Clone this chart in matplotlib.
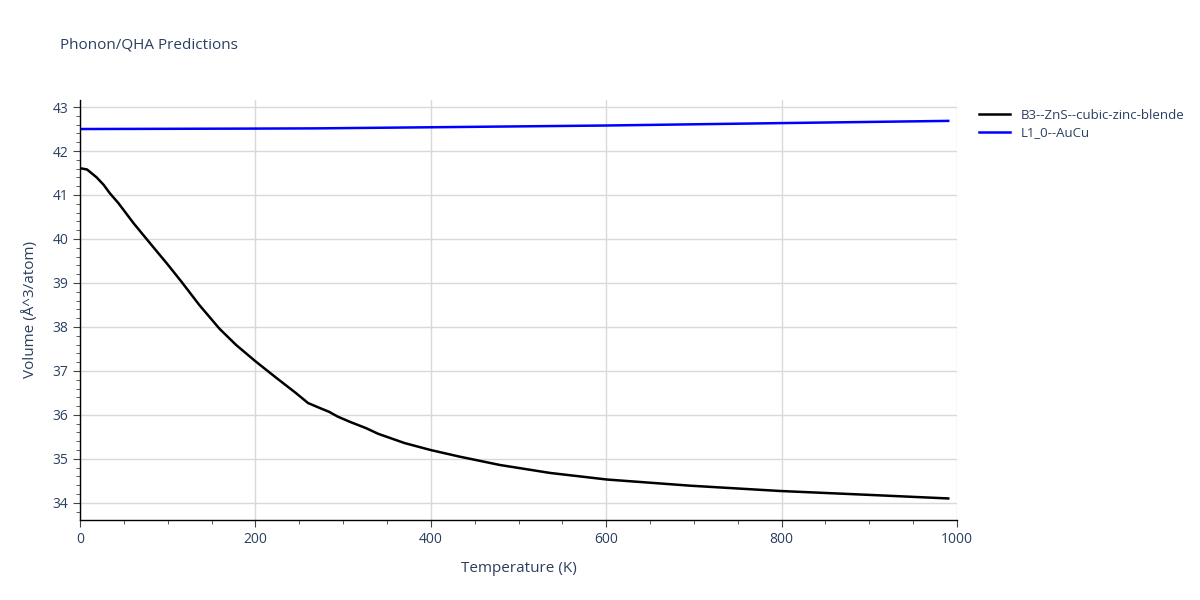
import matplotlib
matplotlib.use("Agg")
import matplotlib.pyplot as plt
from matplotlib.ticker import MultipleLocator

plt.rcParams['font.family'] = ['Open Sans', 'DejaVu Sans']

temp_b3 = [0, 8, 19, 27, 34, 44, 61, 80, 100, 116, 136, 159, 178, 200, 224, 246, 260, 273, 284,
           294, 308, 326, 340, 370, 400, 433, 479, 536, 601, 696, 798, 901, 990]
vol_b3 = [41.61, 41.58, 41.40, 41.23, 41.04, 40.81, 40.36, 39.90, 39.42, 39.02, 38.50, 37.96,
          37.59, 37.22, 36.84, 36.50, 36.27, 36.16, 36.07, 35.96, 35.84, 35.70, 35.57, 35.36,
          35.20, 35.05, 34.86, 34.68, 34.53, 34.39, 34.27, 34.18, 34.10]
temp_l10 = [0, 200, 270, 400, 600, 800, 990]
vol_l10 = [42.50, 42.51, 42.515, 42.54, 42.58, 42.635, 42.685]
labels = ["B3--ZnS--cubic-zinc-blende", "L1_0--AuCu"]

txt = '#2a3f5f'
fig = plt.figure(figsize=(12, 6), dpi=100)
ax = fig.add_axes([80/1200, 80/600, 877/1200, 420/600])
ax.plot(temp_b3, vol_b3, color='black', lw=1.8, label=labels[0])
ax.plot(temp_l10, vol_l10, color='blue', lw=1.8, label=labels[1])
ax.set_xlim(0, 1000)
ax.set_ylim(33.61, 43.16)
ax.xaxis.set_major_locator(MultipleLocator(200))
ax.xaxis.set_minor_locator(MultipleLocator(50))
ax.yaxis.set_major_locator(MultipleLocator(1))
ax.yaxis.set_minor_locator(MultipleLocator(0.2))
ax.grid(True, which='major', color='#d9d9d9', lw=1)
ax.set_axisbelow(True)
for s in ['top', 'right']:
    ax.spines[s].set_visible(False)
for s in ['left', 'bottom']:
    ax.spines[s].set_color('black')
    ax.spines[s].set_linewidth(1)
ax.tick_params(which='major', length=5, color='#444444', labelcolor=txt, labelsize=10, direction='out')
ax.tick_params(which='minor', length=3, color='#444444', direction='out')
ax.set_xlabel('Temperature (K)', color=txt, fontsize=11, labelpad=10)
ax.set_ylabel('Volume (Å^3/atom)', color=txt, fontsize=11, labelpad=10)
fig.text(60/1200, 1 - 45/600, 'Phonon/QHA Predictions', color=txt, fontsize=11, va='center')
leg = ax.legend(loc='upper left', bbox_to_anchor=(1.012, 1.008), frameon=False, fontsize=9.5,
                handlelength=2.3, labelspacing=0.35)
for t in leg.get_texts():
    t.set_color(txt)
fig.savefig('out.png', dpi=100)
